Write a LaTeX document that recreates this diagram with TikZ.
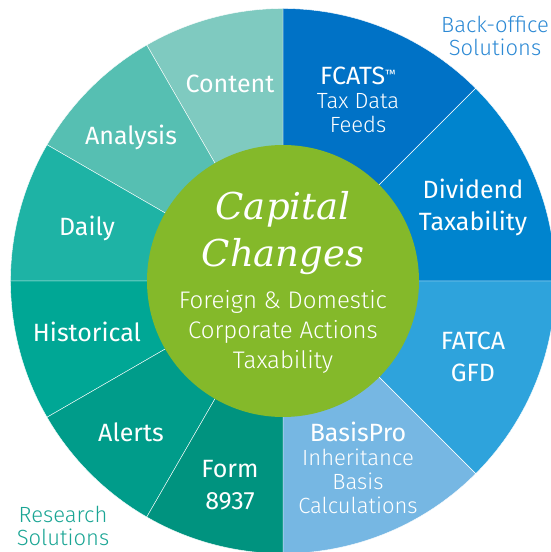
\documentclass[tikz,border=0pt]{standalone}
\usepackage{fontspec}
\setmainfont{Fira Sans}
\newfontfamily\lightfont{Fira Sans Light}
\newfontfamily\hubfont{DejaVu Serif}
\usetikzlibrary{positioning}
\definecolor{fcatsblue}{HTML}{0072C6}
\definecolor{divblue}{HTML}{0084CE}
\definecolor{fatcablue}{HTML}{2EA3DC}
\definecolor{basisblue}{HTML}{76B7E3}
\definecolor{contentteal}{HTML}{7FCAC0}
\definecolor{analysisteal}{HTML}{56BFB2}
\definecolor{dailyteal}{HTML}{1EB3A5}
\definecolor{histteal}{HTML}{00A795}
\definecolor{alertsteal}{HTML}{009C8A}
\definecolor{formteal}{HTML}{00937F}
\definecolor{hubgreen}{HTML}{84B92A}
\definecolor{backblue}{HTML}{2C89D4}
\definecolor{researchteal}{HTML}{1AA594}
\newcommand{\tmark}{\raisebox{6pt}{\fontsize{12}{12}\selectfont ™}}
\tikzset{
  wedge/.style={draw=white, line width=0.4pt},
  seglabel/.style={text=white, align=center, inner sep=0pt, font=\fontsize{25}{32}\selectfont},
  subblock/.style={text=white, align=center, inner sep=0pt, font=\fontsize{25}{24}\selectfont},
  hubtitle/.style={text=white, align=center, inner sep=0pt, font=\hubfont\itshape\fontsize{37}{47}\selectfont},
  hubsub/.style={text=white, align=center, inner sep=0pt, font=\lightfont\fontsize{24}{30}\selectfont},
  groupname/.style={align=center, inner sep=0pt, font=\lightfont\fontsize{22}{23.5}\selectfont},
}

\begin{document}
\begin{tikzpicture}[x=1pt, y=1pt]
  \useasboundingbox (-283,-271) rectangle (268,281);
  % Wedges
  \foreach \from/\to/\col in {90/45/fcatsblue, 45/0/divblue, 0/-45/fatcablue, -45/-90/basisblue,
      90/120/contentteal, 120/150/analysisteal, 150/180/dailyteal, 180/210/histteal,
      210/240/alertsteal, 240/270/formteal}
    \filldraw[wedge, fill=\col] (0,0) -- (\from:272.5) arc[start angle=\from, end angle=\to, radius=272.5] -- cycle;
  \node[circle, fill=hubgreen, minimum size=272, inner sep=0pt] (hub) at (0,0) {};

  % Hub text
  \node[hubtitle] (title) at (0,48) {Capital\\Changes};
  \node[hubsub] (scope) at (0,-51) {Foreign \& Domestic\\Corporate Actions\\Taxability};

  % Research side
  \node[seglabel] (content) at (-53,197) {Content};
  \node[seglabel] (analysis) at (-152,144) {Analysis};
  \node[seglabel] (daily) at (-196,53) {Daily};
  \node[seglabel] (historical) at (-196,-51) {Historical};
  \node[seglabel] (alerts) at (-152,-151) {Alerts};
  \node[seglabel] (form) at (-53,-204) {Form\\8937};

  % Back-office side
  \node[subblock] (fcats) at (75,181) {FCATS\tmark\\\lightfont\fontsize{22}{24}\selectfont Tax Data\\\lightfont\fontsize{22}{24}\selectfont Feeds};
  \node[seglabel] (dividend) at (190,74) {Dividend\\Taxability};
  \node[seglabel] (fatca) at (190,-76) {FATCA\\GFD};
  \node[subblock] (basis) at (75,-187) {BasisPro\\\lightfont\fontsize{22}{24}\selectfont Inheritance\\\lightfont\fontsize{22}{24}\selectfont Basis\\\lightfont\fontsize{22}{24}\selectfont Calculations};

  % Group names
  \node[groupname, text=backblue] (backoffice) at (212,245) {Back-office\\Solutions};
  \node[groupname, text=researchteal] (research) at (-220,-245) {Research\\Solutions};
\end{tikzpicture}
\end{document}
